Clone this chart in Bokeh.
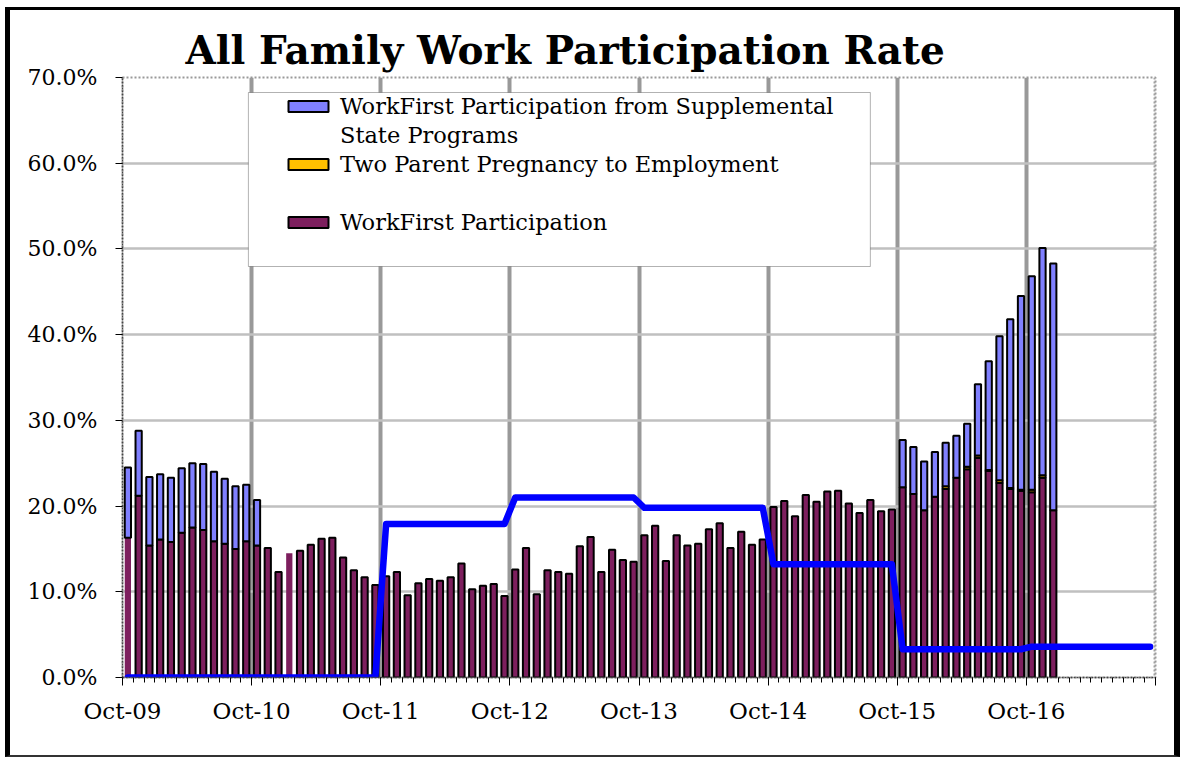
from bokeh.plotting import figure
from bokeh.models import (ColumnDataSource, FixedTicker, PrintfTickFormatter,
                          Legend, LegendItem, Span, BoxAnnotation)
from bokeh.embed import file_html
from bokeh.resources import INLINE

FONT = "DejaVu Serif"

# ---------------- data ----------------
tick_labels = ["Oct-09", "Oct-10", "Oct-11", "Oct-12", "Oct-13", "Oct-14", "Oct-15", "Oct-16"]

# WorkFirst Participation (%), Oct-09 .. Dec-16 (87 months)
workfirst = [
    16.3, 21.2, 15.4, 16.1, 15.8, 16.9, 17.5, 17.2, 15.9, 15.6, 15.0, 15.9,
    15.4, 15.1, 12.3, 14.5, 14.8, 15.5, 16.2, 16.3, 14.0, 12.5, 11.7, 10.8,
    11.8, 12.3, 9.6, 11.0, 11.5, 11.3, 11.7, 13.3, 10.3, 10.7, 10.9, 9.5,
    12.6, 15.1, 9.7, 12.5, 12.3, 12.1, 15.3, 16.4, 12.3, 14.9, 13.7, 13.5,
    16.6, 17.7, 13.6, 16.6, 15.4, 15.6, 17.3, 18.0, 15.1, 17.0, 15.5, 16.1,
    19.9, 20.6, 18.8, 21.3, 20.5, 21.7, 21.8, 20.3, 19.2, 20.7, 19.4, 19.6,
    22.2, 21.4, 19.5, 21.1, 22.0, 23.3, 24.3, 25.6, 24.1, 22.7, 22.0, 21.8,
    21.6, 23.3, 19.5,
]
# Two Parent Pregnancy to Employment (%)
two_parent = [
    0, 0, 0, 0, 0, 0, 0, 0, 0, 0, 0, 0,
    0, 0, 0, 0, 0, 0, 0, 0, 0, 0, 0, 0,
    0, 0, 0, 0, 0, 0, 0, 0, 0, 0, 0, 0,
    0, 0, 0, 0, 0, 0, 0, 0, 0, 0, 0, 0,
    0, 0, 0, 0, 0, 0, 0, 0, 0, 0, 0, 0,
    0, 0, 0, 0, 0, 0, 0, 0, 0, 0, 0, 0,
    0, 0, 0, 0, 0.3, 0, 0.3, 0.3, 0.1, 0.3, 0.1, 0.1,
    0.3, 0.3, 0,
]
# WorkFirst Participation from Supplemental State Programs (%)
supplemental = [
    8.2, 7.6, 8.0, 7.6, 7.5, 7.5, 7.5, 7.7, 8.1, 7.6, 7.3, 6.6,
    5.3, 0, 0, 0, 0, 0, 0, 0, 0, 0, 0, 0,
    0, 0, 0, 0, 0, 0, 0, 0, 0, 0, 0, 0,
    0, 0, 0, 0, 0, 0, 0, 0, 0, 0, 0, 0,
    0, 0, 0, 0, 0, 0, 0, 0, 0, 0, 0, 0,
    0, 0, 0, 0, 0, 0, 0, 0, 0, 0, 0, 0,
    5.5, 5.5, 5.7, 5.2, 5.1, 4.9, 5.0, 8.3, 12.7, 16.8, 19.7, 22.6,
    24.9, 26.5, 28.8,
]
# Required participation rate line (%), Oct-09 .. Sep-17 (96 months)
target = [
    0, 0, 0, 0, 0, 0, 0, 0, 0, 0, 0, 0,
    0, 0, 0, 0, 0, 0, 0, 0, 0, 0, 0, 0,
    17.9, 17.9, 17.9, 17.9, 17.9, 17.9, 17.9, 17.9, 17.9, 17.9, 17.9, 17.9,
    21.0, 21.0, 21.0, 21.0, 21.0, 21.0, 21.0, 21.0, 21.0, 21.0, 21.0, 21.0,
    19.8, 19.8, 19.8, 19.8, 19.8, 19.8, 19.8, 19.8, 19.8, 19.8, 19.8, 19.8,
    13.2, 13.2, 13.2, 13.2, 13.2, 13.2, 13.2, 13.2, 13.2, 13.2, 13.2, 13.2,
    3.3, 3.3, 3.3, 3.3, 3.3, 3.3, 3.3, 3.3, 3.3, 3.3, 3.3, 3.3,
    3.6, 3.6, 3.6, 3.6, 3.6, 3.6, 3.6, 3.6, 3.6, 3.6, 3.6, 3.6,
]

# ---------------- colours ----------------
PURPLE = "#7d1f5e"
YELLOW = "#ffc000"
PERI = "#8080ff"
NONE = "rgba(0,0,0,0)"
no_outline = {0: "wf", 15: "all"}   # bars drawn without an outline in the original

def seg_line(vals, key):
    out = []
    for i, v in enumerate(vals):
        if v <= 0 or no_outline.get(i) in (key, "all"):
            out.append(NONE)
        else:
            out.append("black")
    return out

n = len(workfirst)
src = ColumnDataSource(dict(
    x=[i + 0.5 for i in range(n)],
    wf=workfirst, tp=two_parent, sup=supplemental,
    wf_line=seg_line(workfirst, "wf"),
    tp_line=seg_line(two_parent, "tp"),
    sup_line=seg_line(supplemental, "sup"),
))
line_src = ColumnDataSource(dict(x=[i + 0.5 for i in range(len(target))], y=target))

# ---------------- figure ----------------
p = figure(width=1175, height=750, x_range=(0, 96), y_range=(0, 70),
           output_backend="svg", toolbar_location=None,
           min_border_left=112, min_border_right=30, min_border_top=67, min_border_bottom=83,
           background_fill_color="white", border_fill_color="white")
p.styles = {"margin-left": "5px", "margin-top": "7px",
            "border-left": "5px solid black", "border-top": "3px solid black",
            "border-right": "6px solid black", "border-bottom": "2px solid #333"}

p.title.text = "All Family Work Participation Rate"
p.title.text_font = FONT
p.title.text_font_size = "39px"
p.title.text_font_style = "bold"
p.title.text_color = "black"
p.title.align = "left"
p.title.offset = 63

# grids
p.ygrid.ticker = FixedTicker(ticks=[10, 20, 30, 40, 50, 60])
p.ygrid.grid_line_color = "#c0c0c0"
p.ygrid.grid_line_width = 2.5
p.xgrid.ticker = FixedTicker(ticks=[12, 24, 36, 48, 60, 72, 84])
p.xgrid.grid_line_color = "#999999"
p.xgrid.grid_line_width = 4

p.outline_line_color = "#999999"
p.outline_line_dash = "2 2"
p.outline_line_width = 2

# bars
renderers = p.vbar_stack(["wf", "tp", "sup"], x="x", width=0.58, source=src,
                         fill_color=[PURPLE, YELLOW, PERI],
                         line_color=["wf_line", "tp_line", "sup_line"],
                         line_width=2)

# line
ln = p.line("x", "y", source=line_src, line_color="#0000ff", line_width=6.5,
            line_join="round", line_cap="round")

p.add_layout(Span(location=96, dimension="height", line_color="#a0a0a0",
                  line_width=4, line_dash="2 2"))

# axes
xt = list(range(0, 97, 12))
p.xaxis.ticker = FixedTicker(ticks=xt, minor_ticks=list(range(97)))
p.xaxis.major_label_overrides = {t: (tick_labels[k] if k < len(tick_labels) else "")
                                 for k, t in enumerate(xt)}
p.yaxis.ticker = FixedTicker(ticks=list(range(0, 71, 10)), minor_ticks=[])
p.yaxis.formatter = PrintfTickFormatter(format="%.1f%%")

for ax in (p.xaxis[0], p.yaxis[0]):
    ax.major_label_text_font = FONT
    ax.major_label_text_color = "black"
    ax.axis_line_color = "#444444"
    ax.axis_line_dash = "2 1"
    ax.axis_line_width = 1.5
    ax.major_tick_line_color = "black"
    ax.minor_tick_line_color = "black"
    ax.major_tick_in = 0
    ax.minor_tick_in = 0
p.xaxis.major_label_text_font_size = "23px"
p.yaxis.major_label_text_font_size = "22px"
p.xaxis.major_tick_out = 8
p.xaxis.minor_tick_out = 5
p.xaxis.major_label_standoff = 12
p.yaxis.major_tick_out = 7
p.yaxis.minor_tick_out = 0
p.yaxis.major_label_standoff = 18

# legend frame (layout box, in axis units)
p.add_layout(BoxAnnotation(left=11.7, right=69.5, bottom=47.95, top=68.25,
                           fill_color="white", fill_alpha=1,
                           line_color="black", line_width=1))

# invisible renderer used for wrapped / blank legend rows
blank = p.vbar(x=[], top=[], width=0.5, fill_alpha=0, line_alpha=0)

SAMPLE = 78  # a month where all three segments are drawn with an outline
legend = Legend(items=[
    LegendItem(label="WorkFirst Participation from Supplemental", renderers=[renderers[2]], index=SAMPLE),
    LegendItem(label="State Programs", renderers=[blank]),
    LegendItem(label="Two Parent Pregnancy to Employment", renderers=[renderers[1]], index=SAMPLE),
    LegendItem(label=" ", renderers=[blank]),
    LegendItem(label="WorkFirst Participation", renderers=[renderers[0]], index=SAMPLE),
], location=(161, 441))
legend.label_text_font = FONT
legend.label_text_font_size = "22.5px"
legend.label_text_color = "black"
legend.label_text_line_height = 1.0
legend.glyph_width = 50
legend.glyph_height = 14
legend.label_height = 29
legend.padding = 0
legend.spacing = 0
legend.label_standoff = 7
legend.border_line_alpha = 0
legend.background_fill_alpha = 0
p.add_layout(legend)

open("out.html", "w").write(file_html(p, INLINE))
